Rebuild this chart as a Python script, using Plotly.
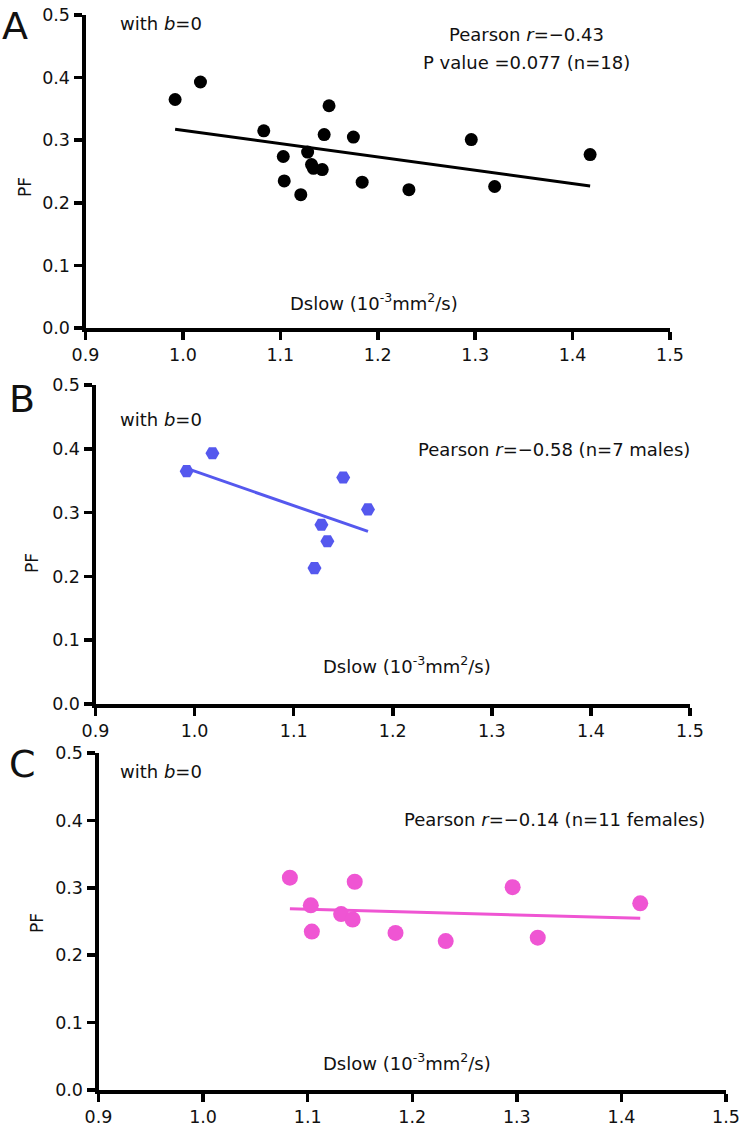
import numpy as np
import plotly.graph_objects as go

# ---- data ----
males_x = [0.992, 1.018, 1.121, 1.128, 1.134, 1.150, 1.175]
males_y = [0.365, 0.393, 0.213, 0.281, 0.255, 0.355, 0.305]
females_x = [1.083, 1.103, 1.104, 1.132, 1.143, 1.145, 1.184, 1.232, 1.296, 1.320, 1.418]
females_y = [0.315, 0.274, 0.235, 0.261, 0.253, 0.309, 0.233, 0.221, 0.301, 0.226, 0.277]
all_x = males_x + females_x
all_y = males_y + females_y

x_ticks = [0.9, 1.0, 1.1, 1.2, 1.3, 1.4, 1.5]
y_ticks = [0.0, 0.1, 0.2, 0.3, 0.4, 0.5]
x_tick_labels = ["0.9", "1.0", "1.1", "1.2", "1.3", "1.4", "1.5"]
y_tick_labels = ["0.0", "0.1", "0.2", "0.3", "0.4", "0.5"]

panel_letters = ["A", "B", "C"]
stat_texts = [
    ["Pearson <i>r</i>=\u22120.43", "P value =0.077 (n=18)"],
    ["Pearson <i>r</i>=\u22120.58 (n=7 males)"],
    ["Pearson <i>r</i>=\u22120.14 (n=11 females)"],
]
x_title = "Dslow (10<sup>-3</sup>mm<sup>2</sup>/s)"
y_title = "PF"
note_text = "with <i>b</i>=0"

W, H = 741, 1127
FONT = "DejaVu Sans"
TXT = "#111111"

BLACK = "#000000"
BLUE = "#5558EE"
PINK = "#EF55D3"

# panel plot areas in pixels: (left, right, top, bottom)
boxes = [(85.5, 670, 15, 328), (95.5, 690, 385, 704), (98.5, 726, 753, 1090)]

def fx(px):
    return px / W

def fy(py):
    return 1 - py / H

fig = go.Figure()

series = [
    (all_x, all_y, BLACK, "circle", 13),
    (males_x, males_y, BLUE, "hexagon2", 14),
    (females_x, females_y, PINK, "circle", 16),
]

for i, (xs, ys, col, sym, msize) in enumerate(series):
    xa = "x" if i == 0 else f"x{i+1}"
    ya = "y" if i == 0 else f"y{i+1}"
    slope, icpt = np.polyfit(xs, ys, 1)
    lx = [min(xs), max(xs)]
    ly = [slope * v + icpt for v in lx]
    fig.add_trace(go.Scatter(x=lx, y=ly, mode="lines", line=dict(color=col, width=3),
                             xaxis=xa, yaxis=ya, showlegend=False, hoverinfo="skip"))
    fig.add_trace(go.Scatter(x=xs, y=ys, mode="markers",
                             marker=dict(color=col, size=msize, symbol=sym, line=dict(width=0)),
                             xaxis=xa, yaxis=ya, showlegend=False))

axis_common = dict(showline=True, linewidth=4, linecolor=BLACK, ticks="outside", ticklen=8,
                   tickwidth=3.5, tickcolor=BLACK, showgrid=False, zeroline=False,
                   automargin=False,
                   tickfont=dict(family=FONT, size=17.5, color=TXT), fixedrange=True)

layout_axes = {}
for i, (l, r, t, b) in enumerate(boxes):
    xk = "xaxis" if i == 0 else f"xaxis{i+1}"
    yk = "yaxis" if i == 0 else f"yaxis{i+1}"
    xa_id = "x" if i == 0 else f"x{i+1}"
    ya_id = "y" if i == 0 else f"y{i+1}"
    layout_axes[xk] = dict(axis_common, domain=[fx(l), fx(r)], range=[0.9, 1.5],
                           tickvals=x_ticks, ticktext=x_tick_labels, anchor=ya_id)
    layout_axes[yk] = dict(axis_common, domain=[fy(b), fy(t)], range=[0, 0.5],
                           tickvals=y_ticks, ticktext=y_tick_labels, anchor=xa_id)

annotations = []

def ann(text, px, py, size=18, xanchor="center", angle=0):
    annotations.append(dict(text=text, x=fx(px), y=fy(py), xref="paper", yref="paper",
                            xanchor=xanchor, yanchor="middle", showarrow=False, textangle=angle,
                            font=dict(family=FONT, size=size, color=TXT)))

letter_pos = [(15, 26), (21.5, 399), (22.5, 764)]
note_pos = [(118, 23), (118, 419), (118, 772)]
stat_pos = [[(526.5, 34), (526, 63)], [(554, 450)], [(554.5, 819)]]
xtitle_pos = [(373.5, 302), (407, 665), (407, 1062)]
ytitle_pos = [(25, 187), (32, 563), (37, 923)]

for i in range(3):
    ann(panel_letters[i], *letter_pos[i], size=38)
    ann(note_text, *note_pos[i], xanchor="left")
    for txt, pos in zip(stat_texts[i], stat_pos[i]):
        ann(txt, *pos)
    ann(x_title, *xtitle_pos[i])
    ann(y_title, *ytitle_pos[i], size=17, angle=-90)

fig.update_layout(width=W, height=H, margin=dict(l=0, r=0, t=0, b=0, autoexpand=False),
                  paper_bgcolor="white", plot_bgcolor="white",
                  font=dict(family=FONT, size=17, color=TXT),
                  annotations=annotations, **layout_axes)

fig.write_html("out.html",
               config={"displayModeBar": False, "staticPlot": True},
               post_script="document.body.style.margin='0';document.body.style.overflow='hidden';")
